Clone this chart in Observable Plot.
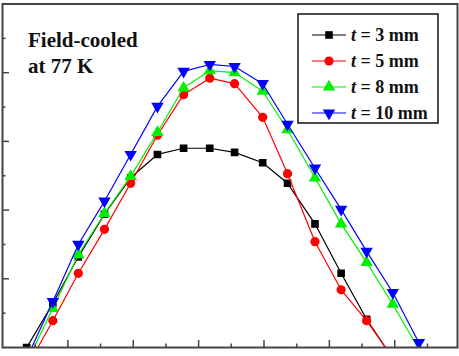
<!DOCTYPE html>
<html>
<head>
<meta charset="utf-8">
<script src="https://cdn.jsdelivr.net/npm/d3@7"></script>
<script src="https://cdn.jsdelivr.net/npm/@observablehq/plot@0.6"></script>
<style>
  body { margin: 0; background: #fff; }
  #chart svg { display: block; }
</style>
</head>
<body>
<div id="chart"></div>
<script>
// Measurement positions (mm) along the scan
const positions = [-26.3, -22.3, -18.4, -14.4, -10.4, -6.3, -2.3, 1.7, 5.5, 9.8, 13.6, 17.8, 21.8, 25.7, 29.7, 33.7];

// Levitation force per sample thickness
const force3mm  = [0.0, 6.4, 13.2, 19.4, 24.7, 28.1, 29.0, 29.0, 28.4, 26.9, 23.9, 18.0, 10.8, 4.1, -1.6];
const force5mm  = [-2.9, 3.9, 10.8, 17.2, 23.9, 30.9, 36.8, 39.2, 38.4, 33.5, 25.3, 15.4, 8.4, 3.9, -1.5];
const force8mm  = [-2.2, 5.7, 13.5, 19.5, 24.9, 31.3, 37.8, 40.3, 40.0, 37.3, 31.7, 24.7, 18.0, 12.4, 6.3, -0.3];
const force10mm = [-1.6, 6.7, 15.0, 21.3, 28.1, 35.1, 40.2, 41.2, 40.9, 38.4, 32.5, 26.1, 20.1, 14.0, 8.0, 0.7];

const seriesLabels = ["3 mm", "5 mm", "8 mm", "10 mm"];
const titleLines = ["Field-cooled", "at 77 K"];

// Axis tick positions (no tick labels on this frame)
const xMajor = [-20, -10, 0, 10, 20, 30];
const xMinor = [-25, -15, -5, 5, 15, 25, 35];
const yMajor = [10, 20, 30, 40];
const yMinor = [5, 15, 25, 35, 45];

const series = [
  {label: seriesLabels[0], values: force3mm,  color: "#000000", symbol: "square",   rotate: 0,   r: 4.3},
  {label: seriesLabels[1], values: force5mm,  color: "#ff0000", symbol: "circle",   rotate: 0,   r: 4.6},
  {label: seriesLabels[2], values: force8mm,  color: "#00f000", symbol: "triangle", rotate: 0,   r: 4.6},
  {label: seriesLabels[3], values: force10mm, color: "#0000ff", symbol: "triangle", rotate: 180, r: 4.6}
];

const serifStack = "'Liberation Serif', 'Times New Roman', 'DejaVu Serif', serif";

const rows = s => s.values.map((v, i) => ({x: positions[i], y: v}));

const marks = [];
for (const s of series) {
  const data = rows(s);
  marks.push(Plot.line(data, {x: "x", y: "y", stroke: s.color, strokeWidth: 1.2, clip: true}));
  marks.push(Plot.dot(data, {x: "x", y: "y", fill: s.color, stroke: "none", symbol: s.symbol, r: s.r, rotate: s.rotate, clip: true}));
}

const axisColor = "#444";
const chart = Plot.plot({
  width: 459,
  height: 356,
  marginLeft: 2,
  marginRight: 2,
  marginTop: 3.5,
  marginBottom: 9,
  style: {background: "#fff"},
  x: {domain: [-30, 39.6], axis: null},
  y: {domain: [0, 50], axis: null},
  marks: [
    ...marks,
    // inward ticks on the bottom and left edges
    Plot.ruleX(xMajor, {x: d => d, stroke: axisColor, strokeWidth: 1.5, insetTop: 336.5}),
    Plot.ruleX(xMinor, {x: d => d, stroke: axisColor, strokeWidth: 1.5, insetTop: 340}),
    Plot.ruleY(yMajor, {y: d => d, stroke: axisColor, strokeWidth: 1.5, insetRight: 448}),
    Plot.ruleY(yMinor, {y: d => d, stroke: axisColor, strokeWidth: 1.5, insetRight: 451.5}),
    Plot.frame({stroke: axisColor, strokeWidth: 2})
  ]
});

document.getElementById("chart").append(chart);
const svg = d3.select(chart);

// Annotation in the upper left corner
const title = svg.append("text")
  .attr("x", 28).attr("y", 47)
  .attr("text-anchor", "start")
  .attr("font-weight", "bold").attr("font-size", 21).attr("fill", "#111");
titleLines.forEach((line, i) => {
  title.append("tspan").attr("x", 28).attr("dy", i === 0 ? 0 : 26).text(line);
});

// Legend box in the upper right corner
const lg = svg.append("g").attr("class", "legend");
lg.append("rect")
  .attr("x", 298).attr("y", 14).attr("width", 140).attr("height", 109)
  .attr("fill", "#fff").attr("stroke", "#111").attr("stroke-width", 1.5);

const symbolTypes = {square: d3.symbolSquare, circle: d3.symbolCircle, triangle: d3.symbolTriangle};
series.forEach((s, i) => {
  const cy = 35 + i * 26;
  const row = lg.append("g");
  row.append("line")
    .attr("x1", 312).attr("x2", 346).attr("y1", cy).attr("y2", cy)
    .attr("stroke", s.color).attr("stroke-width", 1.2);
  row.append("path")
    .attr("d", d3.symbol(symbolTypes[s.symbol], Math.PI * s.r * s.r)())
    .attr("transform", `translate(329,${cy}) rotate(${s.rotate})`)
    .attr("fill", s.color);
  const t = row.append("text")
    .attr("x", 351).attr("y", cy).attr("dy", "0.35em")
    .attr("text-anchor", "start")
    .attr("font-weight", "bold").attr("font-size", 18).attr("fill", "#111");
  t.append("tspan").attr("font-style", "italic").text("t");
  t.append("tspan").text(" = " + s.label);
});

// All lettering in the figure is set in a bold serif face
svg.selectAll("text, tspan").style("font-family", serifStack);
</script>
</body>
</html>
